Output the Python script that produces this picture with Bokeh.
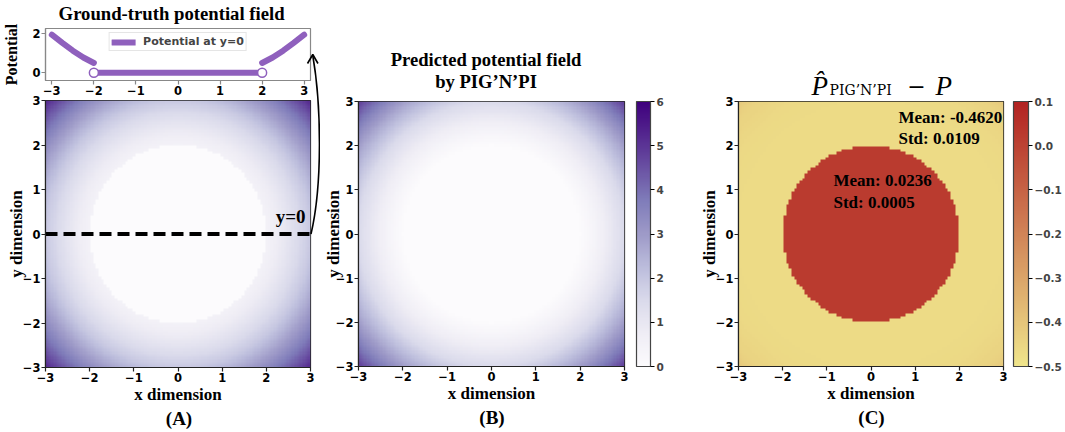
import numpy as np
from bokeh.plotting import figure
from bokeh.layouts import row, column
from bokeh.models import (Range1d, LinearColorMapper, ColorBar, FixedTicker,
                          CustomJSTickFormatter, Legend, LegendItem)
from bokeh.core.properties import value
from bokeh.palettes import Purples256
from bokeh.embed import file_html
from bokeh.resources import INLINE

# ---------------- data ----------------
# ground-truth potential as a function of the radius (outside the disk r < 2)
profile_r = [2.0, 2.25, 2.5, 2.75, 3.0, 3.25, 3.5, 3.75, 4.0, 4.25]
profile_p = [0.50, 0.78, 1.13, 1.53, 1.95, 2.53, 3.13, 3.78, 4.50, 5.28]
disk_radius = 2.0
disk_potential = 0.0

# error of the PIG'N'PI prediction (inside the disk / outside as a function of r)
err_inside = 0.0236
err_out_r = [2.0, 3.0, 3.5, 4.0, 4.25]
err_out_v = [-0.466, -0.466, -0.458, -0.438, -0.41]

# inset: potential along y = 0
curve_left_x = [-3.0, -2.75, -2.5, -2.25, -2.0]
curve_left_p = [1.95, 1.53, 1.13, 0.78, 0.50]
curve_right_x = [2.0, 2.25, 2.5, 2.75, 3.0]
curve_right_p = [0.50, 0.78, 1.13, 1.53, 1.95]
flat_x = [-2.0, 2.0]
flat_p = [0.0, 0.0]
open_x = [-2.0, 2.0]
open_p = [0.0, 0.0]

cut_y = 0.0
axis_ticks = [-3, -2, -1, 0, 1, 2, 3]
inset_yticks = [0, 2]
cb_b_ticks = [0, 1, 2, 3, 4, 5, 6]
cb_c_ticks = [-0.5, -0.4, -0.3, -0.2, -0.1, 0.0, 0.1]
stats_outside = ["Mean: -0.4620", "Std: 0.0109"]
stats_inside = ["Mean: 0.0236", "Std: 0.0005"]
grid_n = 100

# ---------------- fields ----------------
centers = np.linspace(-3 + 3.0 / grid_n, 3 - 3.0 / grid_n, grid_n)
X, Y = np.meshgrid(centers, centers)
R = np.hypot(X, Y)
truth = np.where(R < disk_radius, disk_potential, np.interp(R, profile_r, profile_p))
err = np.where(R < disk_radius, err_inside, np.interp(R, err_out_r, err_out_v))
pred = truth + err

# ---------------- style ----------------
SERIF = "Liberation Serif"
SANS = "DejaVu Sans"
PURPLE = "#8f60bd"
purples = list(Purples256)
if int(purples[0][1:3], 16) < int(purples[-1][1:3], 16):
    purples = purples[::-1]
c0 = np.array([240, 230, 140])   # khaki
c1 = np.array([178, 34, 34])     # firebrick
redpal = ["#%02x%02x%02x" % tuple(int(round(v)) for v in c0 + (c1 - c0) * t)
          for t in np.linspace(0, 1, 256)]
MINUS_INT = "return (tick < 0 ? '\u2212' : '') + Math.abs(tick).toFixed(0);"
MINUS_1 = "return (tick < -1e-9 ? '\u2212' : '') + Math.abs(tick).toFixed(1);"
TICK_FS = "11.5px"
CB_FS = "10.5px"


class Frame:
    def __init__(self, L, T, W, H, x0, x1, y0, y1):
        self.L, self.T, self.W, self.H = L, T, W, H
        self.x0, self.x1, self.y0, self.y1 = x0, x1, y0, y1

    def dx(self, px):
        return self.x0 + (px - self.L) / self.W * (self.x1 - self.x0)

    def dy(self, py):
        return self.y1 - (py - self.T) / self.H * (self.y1 - self.y0)


def style(p, xlabel, ylabel, ylab_standoff, line_color="#222222", xticks=axis_ticks,
          yticks=axis_ticks):
    p.grid.visible = False
    p.outline_line_color = line_color
    p.outline_line_width = 1.2
    for ax in list(p.xaxis) + list(p.yaxis):
        ax.major_label_text_font = SANS
        ax.major_label_text_font_style = "bold"
        ax.major_label_text_font_size = TICK_FS
        ax.major_label_text_color = "black"
        ax.major_label_standoff = 1
        ax.major_tick_out = 4
        ax.major_tick_in = 0
        ax.major_tick_line_color = line_color
        ax.major_tick_line_width = 1.2
        ax.minor_tick_line_color = None
        ax.axis_line_color = line_color
        ax.axis_line_width = 1.2
        ax.axis_label_text_font = SERIF
        ax.axis_label_text_font_style = "bold"
        ax.axis_label_text_font_size = "17px"
        ax.axis_label_text_color = "black"
        ax.formatter = CustomJSTickFormatter(code=MINUS_INT)
    p.xaxis.ticker = FixedTicker(ticks=xticks)
    p.yaxis.ticker = FixedTicker(ticks=yticks)
    p.xaxis.axis_label = xlabel
    p.yaxis.axis_label = ylabel
    p.xaxis.axis_label_standoff = 0
    p.yaxis.axis_label_standoff = ylab_standoff


def text(p, x, y, s, size, align="center", baseline="middle", style_="bold",
         font=SERIF):
    p.text(x=[x], y=[y], text=[s], text_font=value(font), text_font_size=value(size),
           text_font_style=style_, text_align=align, text_baseline=baseline,
           text_color="black", level="overlay")


def colorbar(mapper, ticks, code, offset, width):
    return ColorBar(color_mapper=mapper, ticker=FixedTicker(ticks=ticks),
                    formatter=CustomJSTickFormatter(code=code),
                    location=(offset, 0), width=width, height=265, padding=0, margin=0,
                    bar_line_color="#444444", bar_line_width=1.2,
                    major_tick_line_color="black", major_tick_out=4, major_tick_in=0,
                    minor_tick_line_color=None, label_standoff=2,
                    major_label_text_font=SANS, major_label_text_font_style="bold",
                    major_label_text_font_size=CB_FS, background_fill_alpha=0,
                    border_line_color=None)


common = dict(output_backend="svg", toolbar_location=None)

# ---------------- inset ----------------
FI = Frame(43, 28, 269, 52, -3.15, 3.15, -0.4, 2.27)
ins = figure(width=320, height=100, x_range=Range1d(FI.x0, FI.x1),
             y_range=Range1d(FI.y0, FI.y1), min_border_left=43,
             min_border_right=320 - 43 - 269, min_border_top=28,
             min_border_bottom=20, **common)
style(ins, None, "Potential", 9, line_color="#888888", yticks=inset_yticks)
ins.yaxis.axis_label_text_font_size = "16px"
r_left = ins.line(curve_left_x, curve_left_p, line_width=6, line_color=PURPLE,
                  line_cap="round")
ins.line(curve_right_x, curve_right_p, line_width=6, line_color=PURPLE, line_cap="round")
ins.line(flat_x, flat_p, line_width=6, line_color=PURPLE)
ins.scatter(open_x, open_p, marker="circle", size=9, fill_color="white",
            line_color=PURPLE, line_width=1.5)
leg = Legend(items=[LegendItem(label="Potential at y=0", renderers=[r_left])],
             location="top_center", label_text_font=SANS,
             label_text_font_style="bold", label_text_font_size="11px",
             glyph_width=24, glyph_height=12, label_height=12, label_standoff=8,
             padding=2, margin=4, spacing=0, border_line_color="#cccccc",
             border_line_width=1, background_fill_alpha=0.85)
ins.add_layout(leg)
text(ins, FI.dx(171), FI.dy(12.5), "Ground-truth potential field", "18.7px")

# ---------------- panel A ----------------
FA = Frame(44, 100, 266, 267, -3, 3, -3, 3)
pA = figure(width=320, height=432, x_range=Range1d(-3, 3), y_range=Range1d(-3, 3),
            min_border_left=44, min_border_right=320 - 44 - 266, min_border_top=100,
            min_border_bottom=65, margin=(-100, 0, 0, 0), background_fill_alpha=0,
            border_fill_alpha=0, **common)
style(pA, "x dimension", "y dimension", -6)
map_p = LinearColorMapper(palette=purples, low=0, high=6)
pA.image(image=[truth], x=-3, y=-3, dw=6, dh=6, color_mapper=map_p)
pA.line([-3, 3], [cut_y, cut_y], line_width=4, line_dash="12 6", line_color="black")
# curved arrow from the end of the y=0 cut up to the inset
pA.bezier(x0=FA.dx(310.5), y0=cut_y, x1=FA.dx(312.3), y1=FA.dy(55),
          cx0=FA.dx(322), cy0=FA.dy(185), cx1=FA.dx(321), cy1=FA.dy(105),
          line_color="black", line_width=1.6, level="overlay")
pA.multi_line(xs=[[FA.dx(307), FA.dx(312.3), FA.dx(317.5)]],
              ys=[[FA.dy(63), FA.dy(54), FA.dy(63)]],
              line_color="black", line_width=1.6, level="overlay")
text(pA, FA.dx(290), FA.dy(216), "y=0", "19px")
text(pA, FA.dx(178), FA.dy(418), "(A)", "19px")

# ---------------- panel B ----------------
FB = Frame(357, 101, 267, 265, -3, 3, -3, 3)
pB = figure(width=375, height=432, x_range=Range1d(-3, 3), y_range=Range1d(-3, 3),
            min_border_left=37, min_border_right=375 - 37 - 267, min_border_top=101,
            min_border_bottom=66, **common)
style(pB, "x dimension", "y dimension", -10)
pB.image(image=[pred], x=-3, y=-3, dw=6, dh=6, color_mapper=map_p)
pB.add_layout(colorbar(map_p, cb_b_ticks, MINUS_INT, 12, 14), "right")
text(pB, FB.dx(485), FB.dy(59), "Predicted potential field", "18.6px")
text(pB, FB.dx(485), FB.dy(81), "by PIG\u2019N\u2019PI", "18.6px")
text(pB, FB.dx(491), FB.dy(417), "(B)", "19px")

# ---------------- panel C ----------------
FC = Frame(738, 101, 265, 265, -3, 3, -3, 3)
pC = figure(width=370, height=432, x_range=Range1d(-3, 3), y_range=Range1d(-3, 3),
            min_border_left=43, min_border_right=370 - 43 - 265, min_border_top=101,
            min_border_bottom=66, **common)
style(pC, "x dimension", "y dimension", -6)
map_r = LinearColorMapper(palette=redpal, low=-0.5, high=0.1)
pC.image(image=[err], x=-3, y=-3, dw=6, dh=6, color_mapper=map_r)
pC.add_layout(colorbar(map_r, cb_c_ticks, MINUS_1, 10, 15), "right")
text(pC, FC.dx(898), FC.dy(117), stats_outside[0], "17px", align="left")
text(pC, FC.dx(898), FC.dy(138), stats_outside[1], "17px", align="left")
text(pC, FC.dx(833), FC.dy(180), stats_inside[0], "17px", align="left")
text(pC, FC.dx(833), FC.dy(202), stats_inside[1], "17px", align="left")
# title  \hat{P}_{PIG'N'PI} - P
text(pC, FC.dx(811), FC.dy(85), "P\u0302", "27px", align="left",
     baseline="alphabetic", style_="italic")
text(pC, FC.dx(829), FC.dy(89), "PIG\u2019N\u2019PI", "14px", align="left",
     baseline="alphabetic", style_="normal", font="DejaVu Serif")
text(pC, FC.dx(916), FC.dy(85), "\u2212", "22px", align="center",
     baseline="alphabetic", style_="normal", font="DejaVu Serif")
text(pC, FC.dx(935), FC.dy(85), "P", "27px", align="left",
     baseline="alphabetic", style_="italic")
text(pC, FC.dx(871), FC.dy(417), "(C)", "19px")

layout = row(column(ins, pA), pB, pC)
open("out.html", "w").write(file_html(layout, INLINE, title="Potential fields"))
